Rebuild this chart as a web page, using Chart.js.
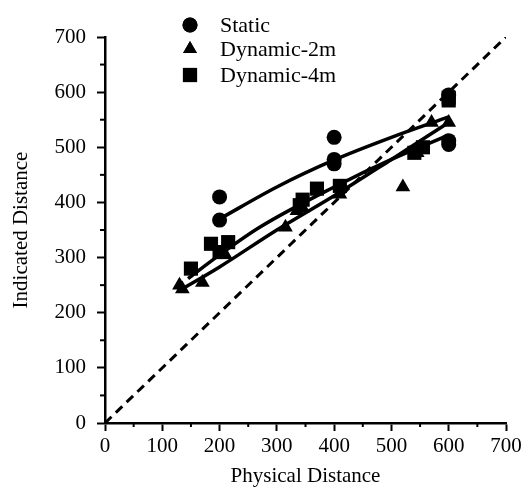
<!DOCTYPE html>
<html>
<head>
<meta charset="utf-8">
<script src="https://cdn.jsdelivr.net/npm/chart.js@4/dist/chart.umd.min.js"></script>
<style>
html,body{margin:0;padding:0;background:#fff;}
#wrap{width:526px;height:501px;position:relative;}
</style>
</head>
<body>
<div id="wrap"><canvas id="c" width="526" height="501"></canvas></div>
<script>
// ---- data ----
const seriesNames = ["Static", "Dynamic-2m", "Dynamic-4m"];
const staticPts = [[200,410],[200,368],[400,518],[400,478],[400,470],[600,512],[600,505],[600,595]];
const dyn2Pts = [[130,250],[135,243],[170,255],[210,305],[315,355],[335,385],[345,390],[410,415],[520,428],[545,490],[570,545],[600,545]];
const dyn4Pts = [[150,280],[185,325],[215,328],[200,310],[340,395],[345,405],[370,425],[410,430],[540,490],[555,500],[600,585],[600,590]];
const staticFit = [[200,370],[300,428],[400,477],[500,518],[600,555]];
const dyn2Fit = [[130,240],[200,283],[300,350],[400,412],[500,478],[600,545]];
const dyn4Fit = [[145,262],[200,305],[270,355],[400,428],[500,478],[600,522]];
const identityLine = [[0,0],[700,700]];
const axisMin = 0, axisMax = 700, majorStep = 100, minorStep = 50;
const xTitle = "Physical Distance";
const yTitle = "Indicated Distance";

const toXY = a => a.map(p => ({x:p[0], y:p[1]}));
const FONT = "'Liberation Serif', 'Times New Roman', serif";

const minorTicks = {
  id: 'minorTicks',
  afterDraw(chart) {
    const ctx = chart.ctx;
    const xs = chart.scales.x, ys = chart.scales.y;
    ctx.save();
    ctx.strokeStyle = '#000';
    ctx.lineWidth = 2;
    for (let v = axisMin + minorStep; v < axisMax; v += majorStep) {
      const px = xs.getPixelForValue(v);
      ctx.beginPath(); ctx.moveTo(px, xs.top); ctx.lineTo(px, xs.top + 4); ctx.stroke();
      const py = ys.getPixelForValue(v);
      ctx.beginPath(); ctx.moveTo(ys.right, py); ctx.lineTo(ys.right - 5, py); ctx.stroke();
    }
    ctx.restore();
  }
};

const legendPlugin = {
  id: 'customLegend',
  afterDraw(chart) {
    const ctx = chart.ctx;
    const styles = ['circle','triangle','rect'];
    const radii = [7.5, 8, 10];
    const ys = [25, 49, 75];
    ctx.save();
    ctx.fillStyle = '#000';
    ctx.font = "22px " + FONT;
    ctx.textBaseline = 'middle';
    for (let i = 0; i < 3; i++) {
      Chart.helpers.drawPoint(ctx, {pointStyle: styles[i], radius: radii[i], borderWidth: 0}, 190, ys[i]);
      ctx.fill();
      ctx.fillText(seriesNames[i], 220, ys[i] + 1);
    }
    ctx.restore();
  }
};

const lineDs = (data, extra) => Object.assign({
  data: toXY(data), showLine: true, pointRadius: 0, borderColor: '#000',
  borderWidth: 3.5, fill: false, cubicInterpolationMode: 'monotone', order: 2
}, extra || {});

new Chart(document.getElementById('c'), {
  type: 'scatter',
  data: {
    datasets: [
      lineDs(identityLine, {borderDash: [9, 6], borderWidth: 3}),
      lineDs(staticFit),
      lineDs(dyn2Fit),
      lineDs(dyn4Fit),
      {label: seriesNames[0], data: toXY(staticPts), pointStyle: 'circle', pointRadius: 7.5, backgroundColor: '#000', borderWidth: 0, order: 1},
      {label: seriesNames[1], data: toXY(dyn2Pts), pointStyle: 'triangle', pointRadius: 8.5, backgroundColor: '#000', borderWidth: 0, order: 1},
      {label: seriesNames[2], data: toXY(dyn4Pts), pointStyle: 'rect', pointRadius: 10, backgroundColor: '#000', borderWidth: 0, order: 1}
    ]
  },
  options: {
    responsive: false,
    animation: false,
    devicePixelRatio: 1,
    layout: {padding: {top: 37, right: 20, left: 0, bottom: 0}},
    plugins: {legend: {display: false}, tooltip: {enabled: false}},
    scales: {
      x: {
        type: 'linear', min: axisMin, max: axisMax,
        afterFit(s) { s.height = 78; },
        border: {display: true, color: '#000', width: 2.5},
        grid: {drawOnChartArea: false, drawTicks: true, tickLength: 8, tickWidth: 2, tickColor: '#000'},
        ticks: {stepSize: majorStep, color: '#000', padding: 3, font: {family: FONT, size: 21}, maxRotation: 0},
        title: {display: true, text: xTitle, color: '#000', font: {family: FONT, size: 21}, padding: {top: 0, bottom: 12}}
      },
      y: {
        type: 'linear', min: axisMin, max: axisMax,
        afterFit(s) { s.width = 105; },
        border: {display: true, color: '#000', width: 2.5},
        grid: {drawOnChartArea: false, drawTicks: true, tickLength: 8, tickWidth: 2, tickColor: '#000'},
        ticks: {stepSize: majorStep, color: '#000', padding: 11, font: {family: FONT, size: 21}},
        title: {display: true, text: yTitle, color: '#000', font: {family: FONT, size: 21}, padding: {top: 9, bottom: 0}}
      }
    }
  },
  plugins: [minorTicks, legendPlugin]
});
</script>
</body>
</html>
